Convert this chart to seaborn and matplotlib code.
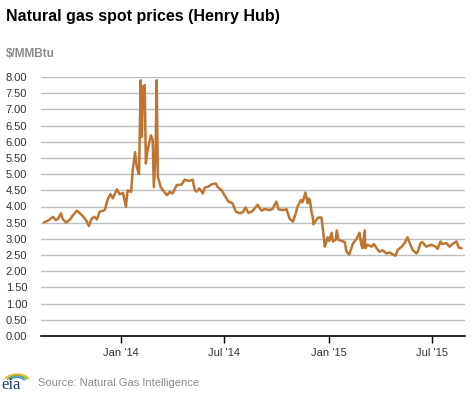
import matplotlib
matplotlib.use("Agg")
import matplotlib.pyplot as plt
import seaborn as sns
import pandas as pd
import numpy as np

dates = ["2013-08-19","2013-08-26","2013-09-04","2013-09-09","2013-09-13","2013-09-18","2013-09-21",
         "2013-09-27","2013-10-04","2013-10-09","2013-10-16","2013-10-25","2013-11-01","2013-11-06",
         "2013-11-11","2013-11-16","2013-11-20","2013-11-25","2013-12-04","2013-12-09","2013-12-14",
         "2013-12-18","2013-12-25","2013-12-30","2014-01-05","2014-01-10","2014-01-13","2014-01-19",
         "2014-01-22","2014-01-26","2014-01-29","2014-02-02","2014-02-05","2014-02-07","2014-02-09",
         "2014-02-12","2014-02-14","2014-02-17","2014-02-23","2014-02-26","2014-02-28","2014-03-03",
         "2014-03-05","2014-03-07","2014-03-12","2014-03-16","2014-03-23","2014-03-28","2014-04-02",
         "2014-04-09","2014-04-18","2014-04-23","2014-04-28","2014-05-02","2014-05-07","2014-05-11",
         "2014-05-14","2014-05-19","2014-05-25","2014-05-28","2014-06-03","2014-06-10","2014-06-17",
         "2014-06-20","2014-06-27","2014-07-02","2014-07-09","2014-07-16","2014-07-22","2014-07-29",
         "2014-08-03","2014-08-08","2014-08-13","2014-08-20","2014-08-29","2014-09-05","2014-09-10",
         "2014-09-19","2014-09-24","2014-10-01","2014-10-05","2014-10-12","2014-10-19","2014-10-24",
         "2014-10-30","2014-11-04","2014-11-07","2014-11-13","2014-11-16","2014-11-21","2014-11-25",
         "2014-11-27","2014-11-29","2014-12-02","2014-12-04","2014-12-05","2014-12-11","2014-12-14",
         "2014-12-19","2014-12-21","2014-12-25","2014-12-28","2014-12-30","2015-01-02","2015-01-06",
         "2015-01-08","2015-01-13","2015-01-15","2015-01-18","2015-01-23","2015-01-29","2015-02-01",
         "2015-02-06","2015-02-12","2015-02-15","2015-02-19","2015-02-24","2015-02-27","2015-03-01",
         "2015-03-05","2015-03-06","2015-03-10","2015-03-17","2015-03-21","2015-03-26","2015-03-31",
         "2015-04-05","2015-04-12","2015-04-18","2015-04-23","2015-04-28","2015-05-02","2015-05-09",
         "2015-05-14","2015-05-19","2015-05-23","2015-05-28","2015-06-04","2015-06-06","2015-06-11",
         "2015-06-14","2015-06-21","2015-06-30","2015-07-07","2015-07-11","2015-07-16","2015-07-19",
         "2015-07-26","2015-08-01","2015-08-06","2015-08-13","2015-08-17","2015-08-22"]
prices = [3.51,3.56,3.68,3.58,3.62,3.79,3.62,
          3.50,3.60,3.73,3.87,3.73,3.58,3.40,
          3.63,3.68,3.60,3.84,3.89,4.22,4.38,
          4.25,4.53,4.38,4.42,3.99,4.50,4.45,
          5.12,5.68,5.22,5.00,7.90,6.15,7.70,
          7.75,5.33,5.74,6.20,6.05,4.60,5.64,
          7.90,4.92,4.60,4.50,4.35,4.45,4.40,
          4.66,4.68,4.83,4.80,4.79,4.83,4.50,
          4.46,4.56,4.40,4.58,4.61,4.69,4.71,
          4.60,4.50,4.35,4.15,4.10,3.84,3.79,
          3.82,3.97,3.80,3.86,4.05,3.87,3.92,
          3.89,3.92,4.15,3.91,3.89,3.91,3.63,
          3.53,3.79,3.99,4.20,4.13,4.43,4.10,
          4.25,4.19,3.79,3.66,3.45,3.61,3.66,
          3.66,3.40,2.76,2.92,3.05,2.94,3.19,
          2.92,2.97,3.26,2.97,2.94,2.90,2.60,
          2.52,2.84,2.92,3.01,3.19,2.82,2.71,
          3.26,2.71,2.82,2.76,2.84,2.71,2.60,
          2.65,2.55,2.58,2.52,2.48,2.66,2.76,
          2.87,3.05,2.87,2.66,2.55,2.60,2.87,
          2.90,2.76,2.82,2.76,2.69,2.92,2.84,
          2.87,2.76,2.84,2.92,2.73,2.71]
yticks = [0,0.5,1,1.5,2,2.5,3,3.5,4,4.5,5,5.5,6,6.5,7,7.5,8]
xtick_dates = ["2014-01-01","2014-07-01","2015-01-01","2015-07-01"]
xtick_labels = ["Jan '14","Jul '14","Jan '15","Jul '15"]

df = pd.DataFrame({"date": pd.to_datetime(dates), "price": prices})

sns.set_theme(style="white")
plt.rcParams['font.family'] = ['Liberation Sans', 'DejaVu Sans']

fig = plt.figure(figsize=(4.77, 3.93), dpi=100)
ax = fig.add_axes([41/477, 1-336/393, (465-41)/477, (336-77)/393])

for y in yticks[1:]:
    ax.axhline(y, color="#bdbdbd", lw=1, zorder=0)

sns.lineplot(data=df, x="date", y="price", ax=ax, color="#BD7531", lw=1.8)

ax.set_ylim(0, 8)
ax.set_xlim(pd.Timestamp("2013-08-14"), pd.Timestamp("2015-08-28"))
ax.set_yticks(yticks)
ax.set_yticklabels([f"{v:.2f}" for v in yticks], fontsize=8, color="#333333")
ax.set_xticks(pd.to_datetime(xtick_dates))
ax.set_xticklabels(xtick_labels, fontsize=8, color="#333333")
ax.set_xlabel("")
ax.set_ylabel("")
for s in ["top", "right", "left"]:
    ax.spines[s].set_visible(False)
ax.spines["bottom"].set_color("black")
ax.spines["bottom"].set_linewidth(1.2)
ax.tick_params(axis="x", bottom=True, length=5, width=1, color="black", pad=4)
ax.tick_params(axis="y", left=False, pad=4)

fig.text(6/477, 1-17/393, "Natural gas spot prices (Henry Hub)", fontsize=11.5,
         fontweight="bold", color="black", va="center")
fig.text(6/477, 1-54/393, "$/MMBtu", fontsize=8.5, fontweight="bold",
         color="#8c8c8c", va="center")
fig.text(38/477, 1-383/393, "Source: Natural Gas Intelligence", fontsize=8,
         color="#8c8c8c", va="center")
fig.text(1/477, 1-385/393, "eia", fontsize=12, family="Liberation Serif",
         color="#1f3b66", va="center")
# small logo arcs
t = np.linspace(0.15*np.pi, 0.85*np.pi, 30)
for r, c in [(13, "#f2b51e"), (10.5, "#7ab648"), (8, "#3a8fd0")]:
    xs = (17 + r*np.cos(t))/477
    ys = 1 - (382 - r*np.sin(t)*0.6)/393
    fig.lines.append(plt.Line2D(xs, ys, transform=fig.transFigure, color=c, lw=1.2))

fig.savefig("out.png", dpi=100)
